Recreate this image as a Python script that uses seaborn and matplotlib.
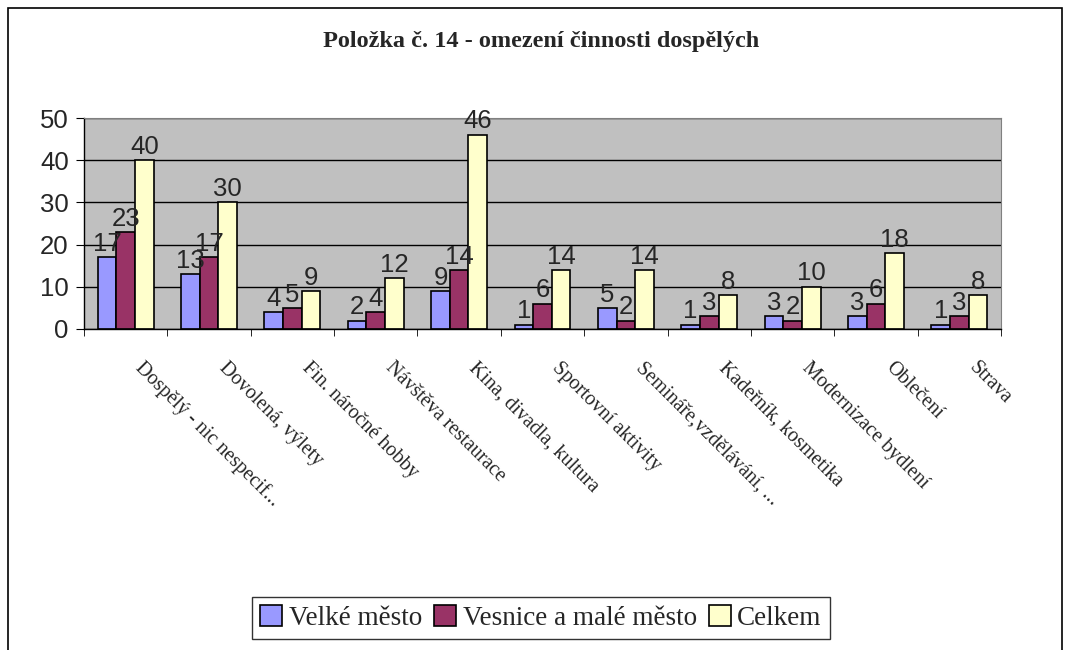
import pandas as pd
import seaborn as sns
import matplotlib.pyplot as plt
from matplotlib.patches import Rectangle
from matplotlib.ticker import FixedLocator
import matplotlib.transforms as mtransforms

# Data
categories = ['Dospělý - nic nespecif...', 'Dovolená, výlety', 'Fin. náročné hobby',
              'Návštěva restaurace', 'Kina, divadla, kultura', 'Sportovní aktivity',
              'Semináře,vzdělávání, ...', 'Kadeřník, kosmetika', 'Modernizace bydlení',
              'Oblečení', 'Strava']
series = ['Velké město', 'Vesnice a malé město', 'Celkem']
velke_mesto = [17, 13, 4, 2, 9, 1, 5, 1, 3, 3, 1]
vesnice = [23, 17, 5, 4, 14, 6, 2, 3, 2, 6, 3]
celkem = [40, 30, 9, 12, 46, 14, 14, 8, 10, 18, 8]
colors = ['#9999FF', '#993366', '#FFFFCC']

df = pd.DataFrame({'kategorie': categories * 3,
                   'serie': [s for s in series for _ in categories],
                   'pocet': velke_mesto + vesnice + celkem})

sns.set_style('white')
plt.rcParams['font.family'] = ['Liberation Sans', 'DejaVu Sans']

fig = plt.figure(figsize=(10.69, 6.5), dpi=100)
W, H = 1069, 650
ax = fig.add_axes([84 / W, 1 - 329 / H, (1001 - 84) / W, (329 - 118) / H])

sns.barplot(data=df, x='kategorie', y='pocet', hue='serie', order=categories,
            hue_order=series, palette=colors, saturation=1, width=0.67,
            edgecolor='black', linewidth=1.2, ax=ax, legend=True, errorbar=None)

ax.set_facecolor('#C0C0C0')
ax.set_ylim(0, 50)
ax.set_xlim(-0.5, len(categories) - 0.5)
ax.set_yticks(range(0, 51, 10))
ax.yaxis.grid(True, color='black', linewidth=1)
ax.set_axisbelow(True)
ax.set_xlabel('')
ax.set_ylabel('')

for side in ['top', 'right']:
    ax.spines[side].set_color('#808080')
for side in ['left', 'bottom']:
    ax.spines[side].set_color('black')
    ax.spines[side].set_linewidth(1)

ax.tick_params(axis='y', which='major', length=6, direction='out', left=True,
               labelsize=18.5, color='black', pad=5)
ax.tick_params(axis='x', which='major', length=0, pad=21)
ax.xaxis.set_minor_locator(FixedLocator([i - 0.5 for i in range(len(categories) + 1)]))
ax.tick_params(axis='x', which='minor', length=5, direction='out', bottom=True, color='black')

ax.set_xticks(range(len(categories)))
ax.set_xticklabels(categories, rotation=-45, ha='left', va='top', rotation_mode='anchor',
                   family=['Liberation Serif', 'DejaVu Serif'], fontsize=14.5)
offset = mtransforms.ScaledTranslation(0.19, 0, fig.dpi_scale_trans)
for lbl in ax.get_xticklabels():
    lbl.set_transform(lbl.get_transform() + offset)

for cont in ax.containers:
    ax.bar_label(cont, fmt='%d', padding=1, fontsize=18.5)

# legend
handles, labels = ax.get_legend_handles_labels()
ax.get_legend().remove()
leg = fig.legend(handles, labels, loc='center', bbox_to_anchor=(541 / W, 1 - 618 / H),
                 ncol=3, frameon=True, fancybox=False, edgecolor='black',
                 handlelength=0.8, handleheight=0.8, handletextpad=0.25,
                 columnspacing=0.45, borderpad=0.3,
                 prop={'family': 'Liberation Serif', 'size': 19.5})
leg.get_frame().set_linewidth(1)

fig.text(541 / W, 1 - 42 / H, 'Položka č. 14 - omezení činnosti dospělých',
         ha='center', va='center', fontsize=17.5, fontweight='bold',
         family=['Liberation Serif', 'DejaVu Serif'])

# outer chart frame
fig.patches.append(Rectangle((8 / W, -0.05), (1062 - 8) / W, 1.05 - 8 / H,
                             transform=fig.transFigure, fill=False,
                             edgecolor='black', linewidth=1.2))

fig.savefig('out.png', dpi=100)
